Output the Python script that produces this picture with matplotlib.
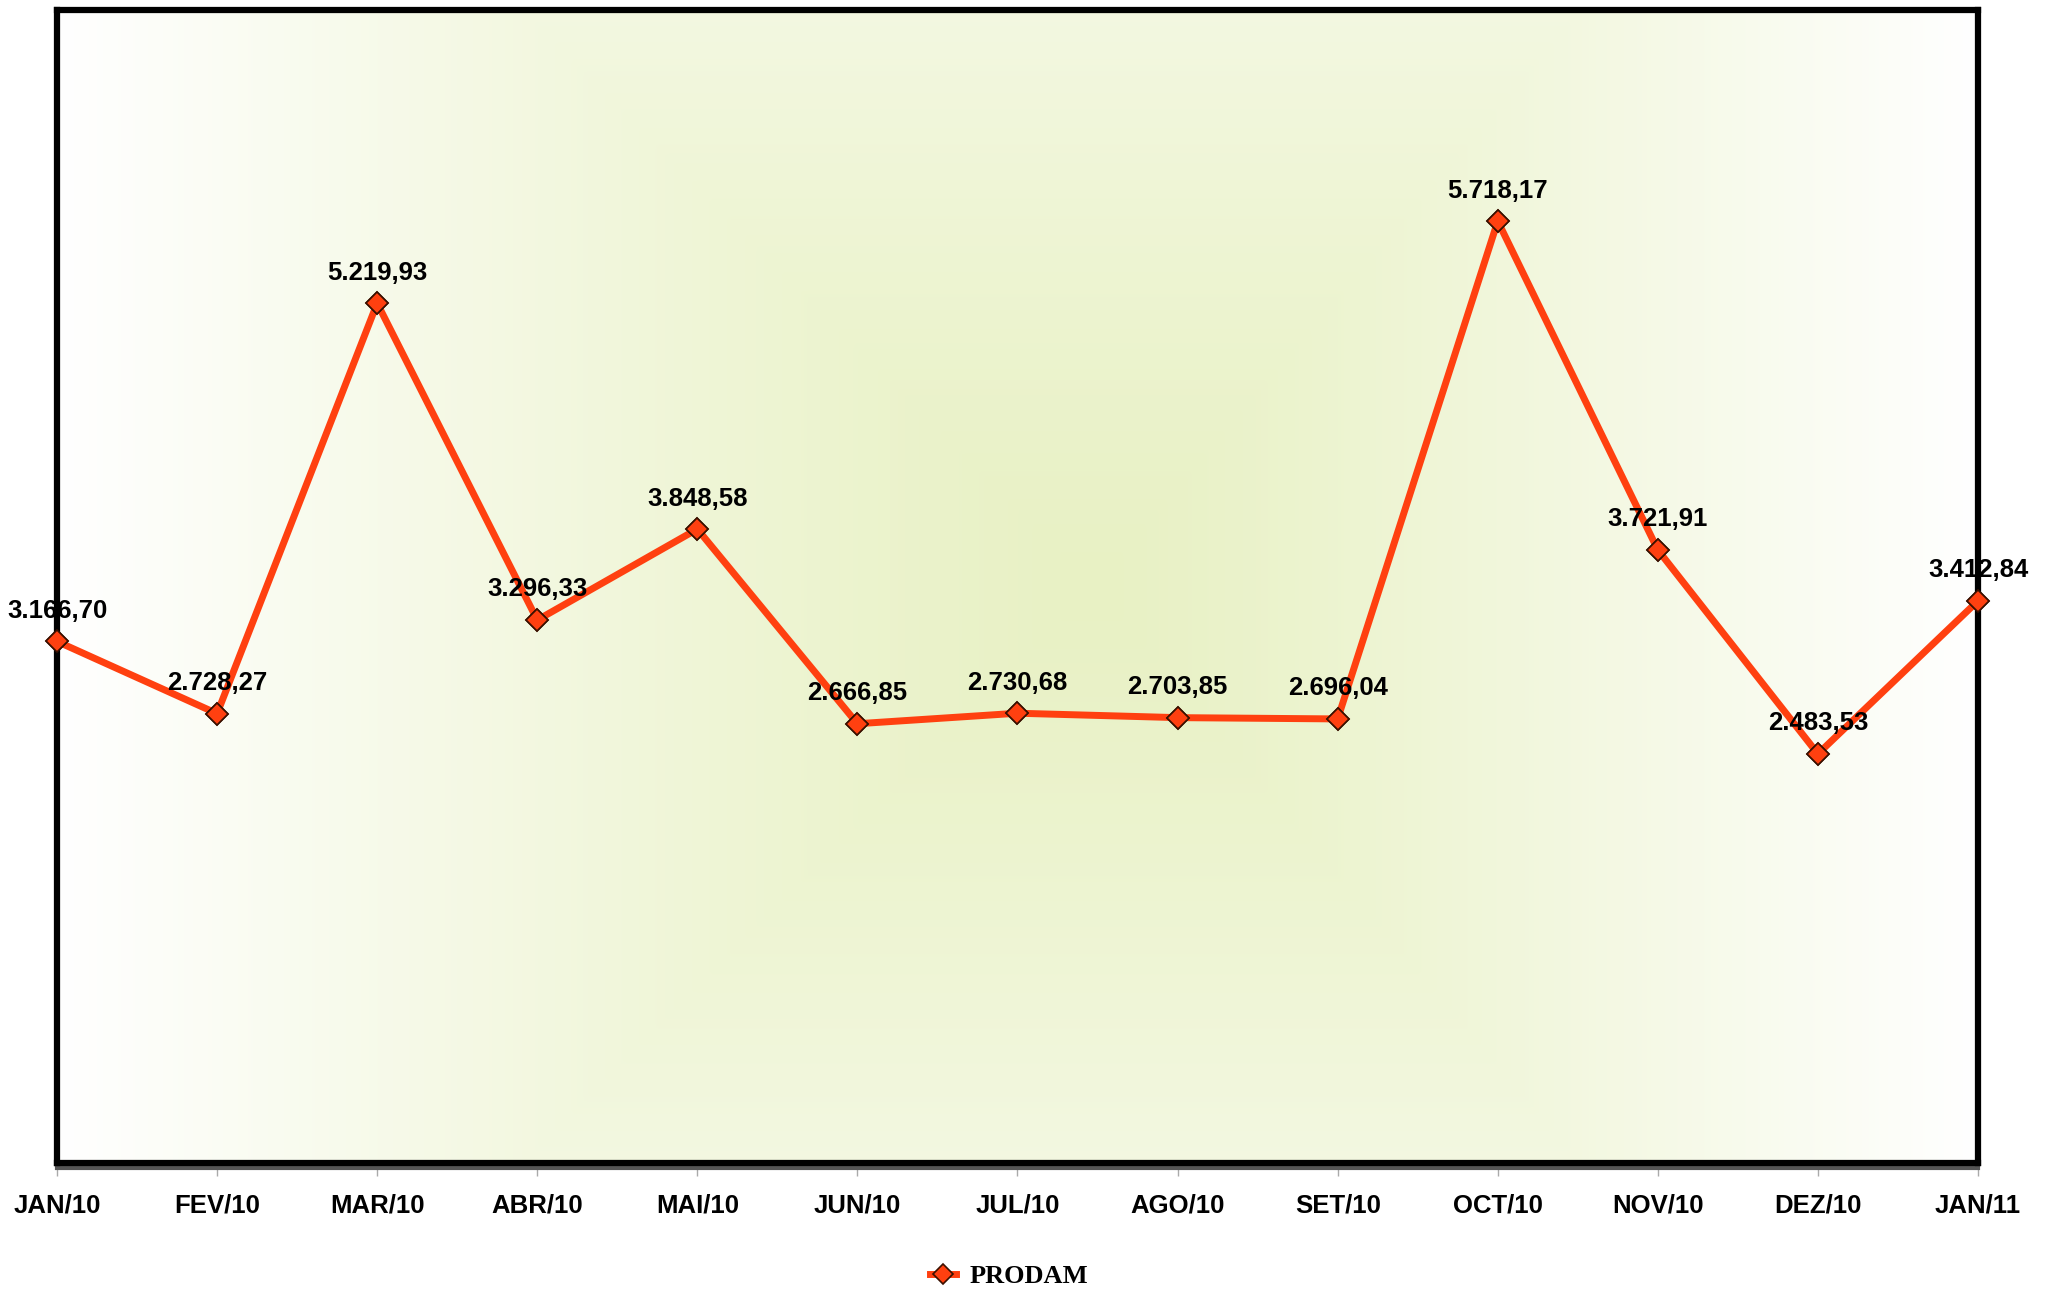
import numpy as np
import matplotlib
matplotlib.use("Agg")
import matplotlib.pyplot as plt
from matplotlib.colors import to_rgb
from matplotlib.transforms import offset_copy

# dados
meses = ['JAN/10', 'FEV/10', 'MAR/10', 'ABR/10', 'MAI/10', 'JUN/10', 'JUL/10',
         'AGO/10', 'SET/10', 'OCT/10', 'NOV/10', 'DEZ/10', 'JAN/11']
prodam = [3166.70, 2728.27, 5219.93, 3296.33, 3848.58, 2666.85, 2730.68,
          2703.85, 2696.04, 5718.17, 3721.91, 2483.53, 3412.84]


def fmt_br(v):
    s = f"{v:,.2f}"
    return s.replace(',', 'X').replace('.', ',').replace('X', '.')


plt.rcParams['font.family'] = ['Liberation Sans', 'DejaVu Sans']

fig = plt.figure(figsize=(20.46, 12.89), dpi=100)
ax = fig.add_axes([57 / 2046, 1 - 1163 / 1289, (1978 - 57) / 2046, (1163 - 10) / 1289])

x = np.arange(len(meses))
ax.set_xlim(0, len(meses) - 1)
ax.set_ylim(0, 7000)

# fundo em degrade (centro verde claro -> branco nas bordas)
nx, ny = 400, 250
gx = np.linspace(-1, 1, nx)
gy = np.linspace(-1, 1, ny)
X, Y = np.meshgrid(gx, gy)
cx = 0.08
den = np.where(X > cx, 1 - cx, 1 + cx)
t = np.maximum(np.abs(X - cx) / den, np.abs(Y) * 0.55)
t = np.clip(t, 0, 1) ** 1.2
c0 = np.array(to_rgb('#e8f1c4'))
c1 = np.array([1.0, 1.0, 1.0])
img = c0[None, None, :] * (1 - t[..., None]) + c1[None, None, :] * t[..., None]
ax.imshow(img, extent=[0, len(meses) - 1, 0, 7000], aspect='auto', zorder=0,
          interpolation='bilinear')

cor = '#ff4010'
ax.plot(x, prodam, color=cor, lw=5, marker='D', ms=11,
        markerfacecolor=cor, markeredgecolor='#3a1000', markeredgewidth=1.2,
        label='PRODAM', zorder=2, clip_on=False)
# marcadores por cima da moldura
ax.plot(x, prodam, ls='none', marker='D', ms=11, markerfacecolor=cor,
        markeredgecolor='#3a1000', markeredgewidth=1.2, zorder=4, clip_on=False)

for xi, v in zip(x, prodam):
    ax.annotate(fmt_br(v), (xi, v), xytext=(0, 22), textcoords='offset points',
                ha='center', va='center', fontsize=18.5, fontweight='bold', zorder=2.5)

for s in ax.spines.values():
    s.set_linewidth(4.5)
    s.set_color('black')
    s.set_zorder(3)

# sombra cinza sob o eixo x
tr = offset_copy(ax.transAxes, fig, x=0, y=-5, units='dots')
ax.plot([0, 1], [0, 0], color='#555555', lw=3, transform=tr, clip_on=False, zorder=2.8)

ax.set_yticks([])
ax.set_xticks(x)
ax.set_xticklabels(meses, fontsize=18.5, fontweight='bold')
ax.tick_params(axis='x', length=9, width=1, color='#aaaaaa', pad=13)

leg = fig.legend(loc='lower center', bbox_to_anchor=(0.493, -0.018), frameon=False,
                 prop={'family': 'Liberation Serif', 'weight': 'bold', 'size': 19},
                 handlelength=1.0, handletextpad=0.5, markerscale=0.9)

fig.savefig('out.png', dpi=100, facecolor='white')
